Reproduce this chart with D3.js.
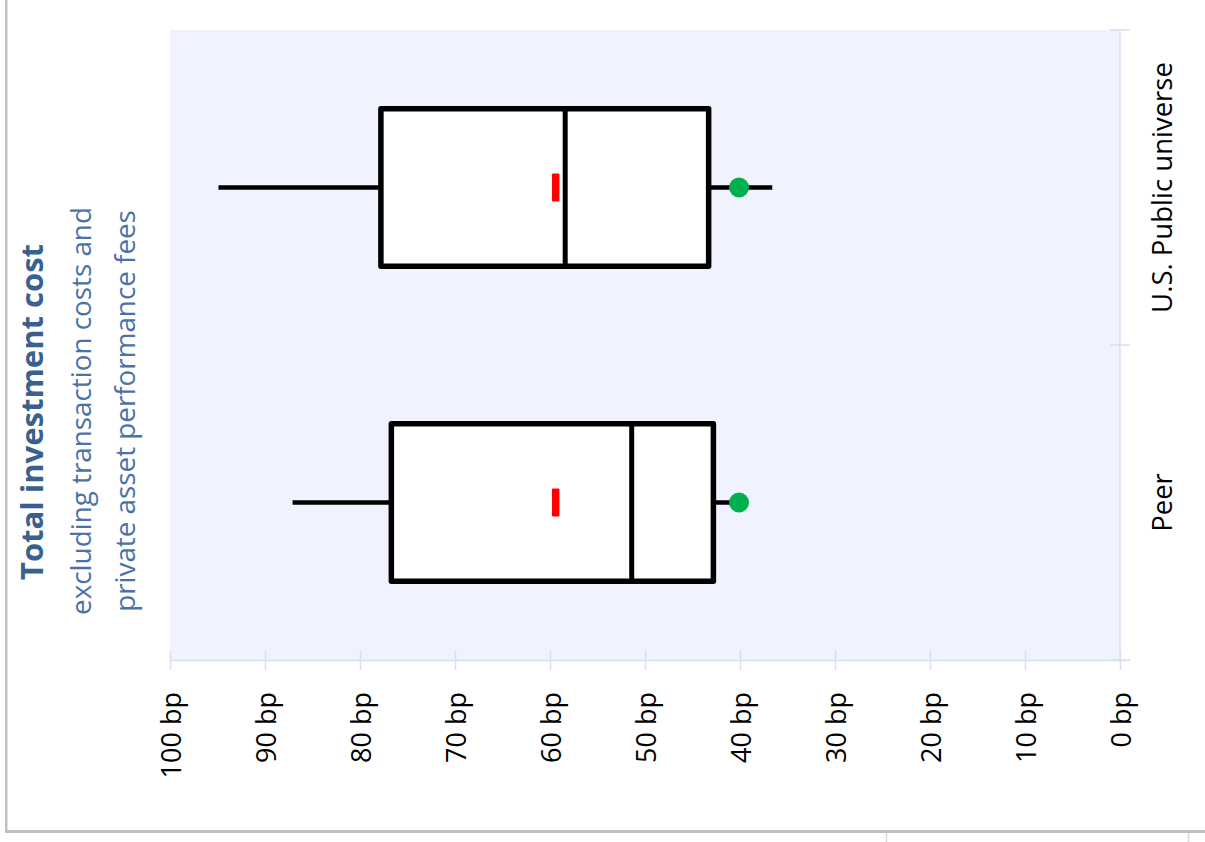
<!DOCTYPE html>
<html>
<head>
<meta charset="utf-8">
<script src="https://cdn.jsdelivr.net/npm/d3@7"></script>
<style>
  html, body { margin: 0; padding: 0; background: #ffffff; }
  svg { display: block; }
  text { font-family: "Open Sans", "Noto Sans", sans-serif; }
</style>
</head>
<body>
<svg id="chart" width="1205" height="842"></svg>
<script>
// ---- data ----
const categories = ["U.S. Public universe", "Peer"];
const whiskerHigh = [94.9, 87.1];   // left whisker end (high cost)
const q3Values    = [77.8, 76.7];   // box left edge
const medians     = [58.4, 51.4];   // median line
const q1Values    = [43.3, 42.8];   // box right edge
const whiskerLow  = [36.6, 40.5];   // right whisker end (low cost)
const meanValues  = [59.4, 59.4];   // red marker
const fundValues  = [40.1, 40.1];   // green dot
const tickValues  = [100, 90, 80, 70, 60, 50, 40, 30, 20, 10, 0];
const tickLabels  = tickValues.map(v => v + " bp");
const titleText   = "Total investment cost";
const subtitleLines = ["excluding transaction costs and", "private asset performance fees"];

// ---- layout ----
const svg = d3.select("#chart");
const plot = { left: 170, right: 1120, top: 30, bottom: 660 };

const x = d3.scaleLinear().domain([100, 0]).range([plot.left, plot.right]);
const y = d3.scaleBand().domain(categories).range([plot.top, plot.bottom]).padding(0);

// outer frame lines
svg.append("rect").attr("x", 5).attr("y", 0).attr("width", 2.5).attr("height", 833).attr("fill", "#bfbfbf");
svg.append("rect").attr("x", 5).attr("y", 830).attr("width", 1200).attr("height", 3).attr("fill", "#bfbfbf");
svg.append("line").attr("x1", 886.5).attr("x2", 886.5).attr("y1", 833).attr("y2", 842).attr("stroke", "#d9d9d9").attr("stroke-width", 1.5);
svg.append("line").attr("x1", 1188.5).attr("x2", 1188.5).attr("y1", 833).attr("y2", 842).attr("stroke", "#d9d9d9").attr("stroke-width", 1.5);

// plot background
svg.append("rect")
  .attr("x", plot.left).attr("y", plot.top)
  .attr("width", plot.right - plot.left).attr("height", plot.bottom - plot.top)
  .attr("fill", "#f0f3fd");

const axisColor = "#d6e0f0";

// bottom value axis
const xAxis = d3.axisBottom(x).tickValues(tickValues).tickSize(10).tickSizeOuter(0).tickFormat((d, i) => tickLabels[i]);
const gx = svg.append("g").attr("transform", `translate(0,${plot.bottom})`).call(xAxis);
gx.select(".domain").attr("stroke", axisColor).attr("stroke-width", 1.5)
  .attr("d", `M${plot.left},0.5H${plot.right + 10}`);
gx.selectAll(".tick line").attr("stroke", axisColor).attr("stroke-width", 1.5).attr("y1", -10).attr("y2", 10);
gx.selectAll(".tick text")
  .attr("fill", "#000")
  .style("font-size", "27px")
  .attr("text-anchor", "end")
  .attr("transform", "rotate(-90)")
  .attr("x", -32)
  .attr("y", 10)
  .attr("dy", 0);

// right category axis
const yTicks = [plot.top, plot.top + y.bandwidth(), plot.bottom];
svg.append("line").attr("x1", plot.right).attr("x2", plot.right).attr("y1", plot.top).attr("y2", plot.bottom)
  .attr("stroke", axisColor).attr("stroke-width", 1.5);
svg.selectAll(".ytick").data(yTicks).enter().append("line")
  .attr("x1", plot.right - 10).attr("x2", plot.right + 10)
  .attr("y1", d => d).attr("y2", d => d)
  .attr("stroke", axisColor).attr("stroke-width", 1.5);
svg.selectAll(".ylabel").data(categories).enter().append("text")
  .attr("transform", d => `translate(1172,${y(d) + y.bandwidth() / 2}) rotate(-90)`)
  .attr("text-anchor", "middle")
  .style("font-size", "27.5px")
  .attr("fill", "#000")
  .text(d => d);

// title block
svg.append("text")
  .attr("transform", `translate(43,412) rotate(-90)`)
  .attr("text-anchor", "middle")
  .style("font-size", "31px").style("font-weight", "bold")
  .attr("fill", "#38618f")
  .text(titleText);
subtitleLines.forEach((t, i) => {
  svg.append("text")
    .attr("transform", `translate(${91 + i * 44},411) rotate(-90)`)
    .attr("text-anchor", "middle")
    .style("font-size", "27.8px")
    .attr("fill", "#4a72a8")
    .text(t);
});

// boxes
const boxes = categories.map((c, i) => ({
  c, hi: whiskerHigh[i], q3: q3Values[i], med: medians[i], q1: q1Values[i],
  lo: whiskerLow[i], mean: meanValues[i], fund: fundValues[i]
}));
const half = y.bandwidth() * 0.25;
const g = svg.append("g");
boxes.forEach(b => {
  const cy = y(b.c) + y.bandwidth() / 2;
  // whiskers
  g.append("line").attr("x1", x(b.hi)).attr("x2", x(b.q3)).attr("y1", cy).attr("y2", cy)
    .attr("stroke", "#000").attr("stroke-width", 4.5);
  g.append("line").attr("x1", x(b.q1)).attr("x2", x(b.lo)).attr("y1", cy).attr("y2", cy)
    .attr("stroke", "#000").attr("stroke-width", 4.5);
  // box
  g.append("rect")
    .attr("x", x(b.q3)).attr("y", cy - half)
    .attr("width", x(b.q1) - x(b.q3)).attr("height", 2 * half)
    .attr("fill", "#ffffff").attr("stroke", "#000").attr("stroke-width", 5.5)
    .attr("stroke-linejoin", "round");
  // median
  g.append("line").attr("x1", x(b.med)).attr("x2", x(b.med)).attr("y1", cy - half).attr("y2", cy + half)
    .attr("stroke", "#000").attr("stroke-width", 5);
  // mean marker
  g.append("rect").attr("x", x(b.mean) - 3.75).attr("y", cy - 14).attr("width", 7.5).attr("height", 28)
    .attr("rx", 1).attr("fill", "#ff0000");
  // fund dot
  g.append("circle").attr("cx", x(b.fund)).attr("cy", cy).attr("r", 10).attr("fill", "#00b050");
});
</script>
</body>
</html>
